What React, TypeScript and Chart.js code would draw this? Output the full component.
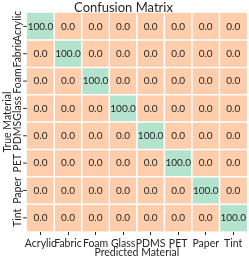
import React, { useEffect, useRef } from 'react';
import { Chart, registerables } from 'chart.js';

Chart.register(...registerables);

const predictedLabels = ['Acrylic', 'Fabric', 'Foam', 'Glass', 'PDMS', 'PET', 'Paper', 'Tint'];
const trueLabels = ['Acrylic', 'Fabric', 'Foam', 'Glass', 'PDMS', 'PET', 'Paper', 'Tint'];

const rowAcrylic = [100.0, 0.0, 0.0, 0.0, 0.0, 0.0, 0.0, 0.0];
const rowFabric = [0.0, 100.0, 0.0, 0.0, 0.0, 0.0, 0.0, 0.0];
const rowFoam = [0.0, 0.0, 100.0, 0.0, 0.0, 0.0, 0.0, 0.0];
const rowGlass = [0.0, 0.0, 0.0, 100.0, 0.0, 0.0, 0.0, 0.0];
const rowPDMS = [0.0, 0.0, 0.0, 0.0, 100.0, 0.0, 0.0, 0.0];
const rowPET = [0.0, 0.0, 0.0, 0.0, 0.0, 100.0, 0.0, 0.0];
const rowPaper = [0.0, 0.0, 0.0, 0.0, 0.0, 0.0, 100.0, 0.0];
const rowTint = [0.0, 0.0, 0.0, 0.0, 0.0, 0.0, 0.0, 100.0];

const matrix = [rowAcrylic, rowFabric, rowFoam, rowGlass, rowPDMS, rowPET, rowPaper, rowTint];

const title = 'Confusion Matrix';
const xTitle = 'Predicted Material';
const yTitle = 'True Material';

const LOW = [253, 205, 172];
const HIGH = [179, 226, 205];
const TEXT = '#262626';
const FONT = 'Lato';

function colorFor(v: number) {
  const t = Math.max(0, Math.min(1, v / 100));
  const c = LOW.map((l, k) => Math.round(l + (HIGH[k] - l) * t));
  return `rgb(${c[0]},${c[1]},${c[2]})`;
}

const cellPlugin = {
  id: 'cellPlugin',
  afterDatasetsDraw(chart: any) {
    const ctx = chart.ctx;
    const xs = chart.scales.x;
    const ys = chart.scales.y;
    const area = chart.chartArea;
    ctx.save();
    // white separators
    ctx.strokeStyle = '#ffffff';
    ctx.lineWidth = 1.5;
    for (let k = 1; k < predictedLabels.length; k++) {
      const px = xs.getPixelForValue(k);
      ctx.beginPath();
      ctx.moveTo(px, area.top);
      ctx.lineTo(px, area.bottom);
      ctx.stroke();
    }
    for (let i = 0; i < trueLabels.length - 1; i++) {
      const py = (ys.getPixelForValue(i) + ys.getPixelForValue(i + 1)) / 2;
      ctx.beginPath();
      ctx.moveTo(area.left, py);
      ctx.lineTo(area.right, py);
      ctx.stroke();
    }
    // cell texts
    ctx.fillStyle = TEXT;
    ctx.font = `10px ${FONT}`;
    ctx.textAlign = 'center';
    ctx.textBaseline = 'middle';
    chart.data.datasets.forEach((ds: any, j: number) => {
      const meta = chart.getDatasetMeta(j);
      meta.data.forEach((el: any, i: number) => {
        const cx = (el.x + el.base) / 2;
        ctx.fillText(matrix[i][j].toFixed(1), cx, el.y);
      });
    });
    // y tick marks + labels
    ctx.strokeStyle = TEXT;
    ctx.lineWidth = 1;
    ctx.font = `10.5px ${FONT}`;
    trueLabels.forEach((lab, i) => {
      const py = ys.getPixelForValue(i);
      ctx.beginPath();
      ctx.moveTo(area.left - 3.5, py);
      ctx.lineTo(area.left, py);
      ctx.stroke();
      ctx.save();
      ctx.translate(17.5, py);
      ctx.rotate(-Math.PI / 2);
      ctx.textAlign = 'center';
      ctx.textBaseline = 'middle';
      ctx.fillText(lab, 0, 0);
      ctx.restore();
    });
    ctx.restore();
  },
};

export default function App() {
  const ref = useRef<HTMLCanvasElement | null>(null);
  useEffect(() => {
    if (!ref.current) return;
    const datasets = predictedLabels.map((p, j) => ({
      label: p,
      data: trueLabels.map(() => 1),
      backgroundColor: trueLabels.map((_, i) => colorFor(matrix[i][j])),
      borderWidth: 0,
      barPercentage: 1,
      categoryPercentage: 1,
    }));
    const chart = new Chart(ref.current, {
      type: 'bar',
      data: { labels: trueLabels, datasets },
      plugins: [cellPlugin],
      options: {
        indexAxis: 'y',
        responsive: false,
        animation: false,
        layout: { padding: { top: 0, right: 2, left: 0, bottom: 0 } },
        plugins: {
          legend: { display: false },
          tooltip: { enabled: false },
          title: {
            display: true,
            text: title,
            color: TEXT,
            font: { family: FONT, size: 13, weight: 'normal', lineHeight: '10.7px' },
            padding: { top: 2, bottom: 0 },
          },
        },
        scales: {
          x: {
            type: 'linear',
            stacked: true,
            min: 0,
            max: predictedLabels.length,
            afterBuildTicks: (axis: any) => {
              axis.ticks = predictedLabels.map((_, j) => ({ value: j + 0.5 }));
            },
            afterFit: (axis: any) => {
              axis.height = 28.5;
            },
            ticks: {
              autoSkip: false,
              maxRotation: 0,
              minRotation: 0,
              padding: 2,
              color: TEXT,
              font: { family: FONT, size: 10.5 },
              callback: (_v: any, idx: number) => predictedLabels[idx],
            },
            grid: {
              display: true,
              drawOnChartArea: false,
              drawTicks: true,
              tickLength: 3.5,
              tickColor: TEXT,
              tickWidth: 1,
            },
            border: { display: false },
            title: {
              display: true,
              text: xTitle,
              color: TEXT,
              font: { family: FONT, size: 10.5 },
              padding: { top: 0, bottom: 1.4 },
            },
          },
          y: {
            type: 'category',
            stacked: true,
            afterFit: (axis: any) => {
              axis.width = 26.7;
            },
            ticks: { display: false },
            grid: { display: false },
            border: { display: false },
            title: {
              display: true,
              text: yTitle,
              color: TEXT,
              font: { family: FONT, size: 10.5 },
              padding: { top: 1.2, bottom: 0 },
            },
          },
        },
      },
    } as any);
    return () => chart.destroy();
  }, []);
  return (
    <canvas
      ref={ref}
      width={249}
      height={260}
      style={{ position: 'absolute', left: 0, top: 0, width: 249, height: 260 }}
    />
  );
}
